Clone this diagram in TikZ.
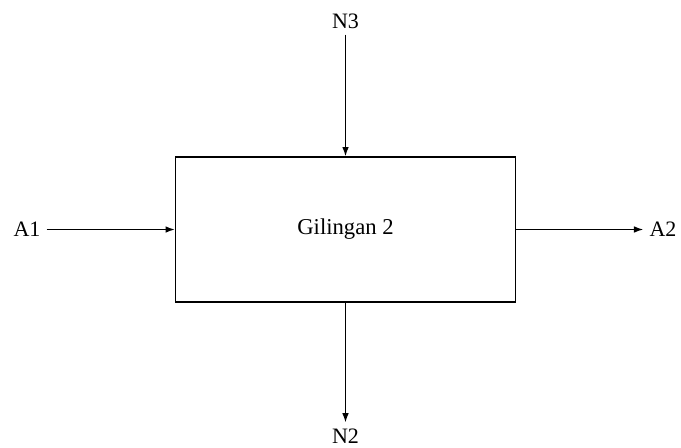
\documentclass[tikz,border=0pt]{standalone}
\usepackage{fontspec}
\setmainfont{Liberation Serif}
\usetikzlibrary{arrows.meta,positioning}

\begin{document}
\begin{tikzpicture}[
            x=0.75pt, y=-0.75pt,
            box/.style={
                    draw=black,
                    fill=white,
                    rectangle,
                    line width=1pt,
                    minimum width=255pt,
                    minimum height=108.75pt,
                    font=\fontsize{17}{19}\selectfont
                },
            label/.style={
                    font=\fontsize{16.5}{18}\selectfont,
                    inner sep=4.5pt
                },
            arrow/.style={
                    -{Latex[length=7pt,width=5pt]},
                    line width=1pt
                }
            ]
            \useasboundingbox (0,0) rectangle (681,447);

            % the mill block
            \node[box] (mill) at (345.5,229.5) {Gilingan 2};

            % streams in and out
            \node[label] (nIn)  at (345.5,21)  {N3};
            \node[label] (aIn)  at (27,229.5)  {A1};
            \node[label] (aOut) at (663,229.5) {A2};
            \node[label] (nOut) at (345.5,436) {N2};

            % --- connections ---
            \draw[arrow] (nIn) -- (mill);
            \draw[arrow] (aIn) -- (mill);
            \draw[arrow] (mill) -- (aOut);
            \draw[arrow] (mill) -- (nOut);

        \end{tikzpicture}
\end{document}
